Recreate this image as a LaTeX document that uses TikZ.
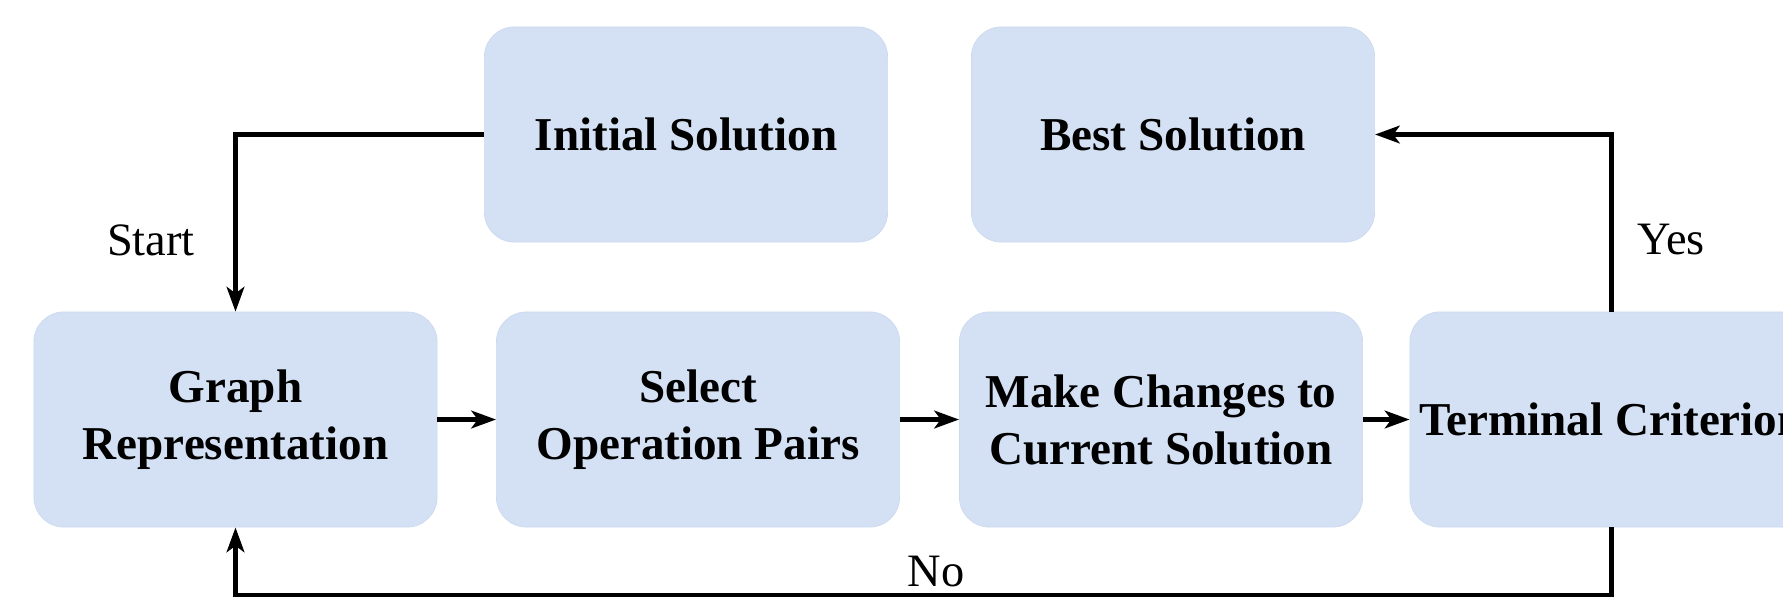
\documentclass[tikz,border=0pt]{standalone}
\usepackage{fontspec}
\setmainfont{Liberation Serif}
\usetikzlibrary{arrows.meta}
\definecolor{boxblue}{RGB}{212,225,244}
\definecolor{boxedge}{RGB}{204,217,239}

\begin{document}
\begin{tikzpicture}[x=0.01cm, y=-0.01cm]
    \tikzstyle{block}=[rectangle, rounded corners=0.3cm, fill=boxblue, draw=boxedge, line width=0.2pt, minimum width=4.03cm, minimum height=2.15cm, align=center, inner sep=0pt, font=\fontsize{13.4pt}{16.2pt}\selectfont\bfseries]
    \tikzstyle{flow}=[line width=1.3pt, -{Stealth[length=7pt,width=5pt,inset=1.8pt]}]
    \tikzstyle{tag}=[font=\fontsize{13.2pt}{15pt}\selectfont]
    \useasboundingbox (0,0) rectangle (1783,596);
    % top row
    \node[block] (init) at (686,134.5){Initial Solution};
    \node[block] (best) at (1173,134.5){Best Solution};
    % bottom row
    \node[block] (graph) at (235.5,419.5){Graph\\Representation};
    \node[block] (select) at (698,419.5){Select\\Operation Pairs};
    \node[block] (change) at (1161,419.5){Make Changes to\\Current Solution};
    \node[block] (term) at (1611.5,419.5){Terminal Criterion};
    % arrows
    \draw[flow] (init.west) -| (graph.north);
    \draw[flow] (graph.east) -- (select.west);
    \draw[flow] (select.east) -- (change.west);
    \draw[flow] (change.east) -- (term.west);
    \draw[flow] (term.north) |- (best.east);
    \draw[flow] (term.south) -- ++(0,67.5) -| (graph.south);
    % branch labels
    \node[tag] (start) at (151,240){Start};
    \node[tag] (yes) at (1671,240){Yes};
    \node[tag] (no) at (936,572){No};
    %\draw[help lines] (0,0) grid (1783,596);
\end{tikzpicture}
\end{document}
